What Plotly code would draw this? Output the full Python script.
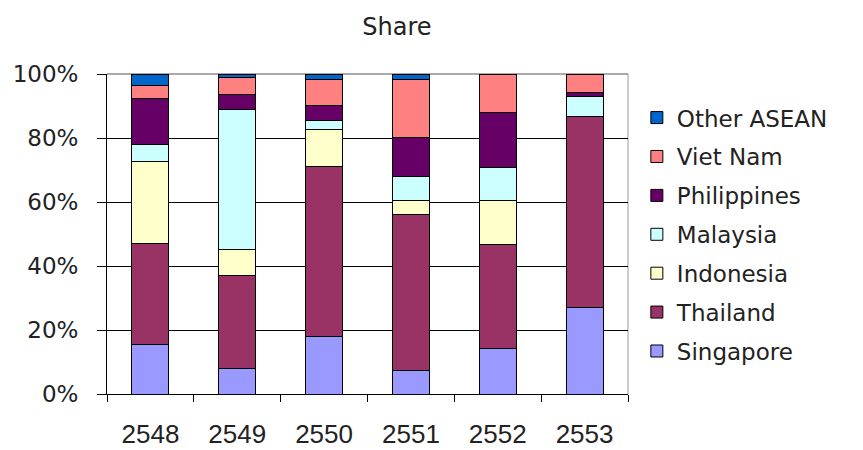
import plotly.graph_objects as go

# Fiscal years (Buddhist Era)
years = ["2548", "2549", "2550", "2551", "2552", "2553"]

# Share of each ASEAN partner, percent of total per year
singapore   = [15.6,  8.0, 17.9,  7.4, 14.3, 27.1]
thailand    = [31.3, 29.0, 53.1, 48.7, 32.4, 59.5]
indonesia   = [25.9,  8.2, 11.6,  4.4, 13.9,  0.0]
malaysia    = [ 5.1, 43.7,  2.8,  7.6, 10.3,  6.3]
philippines = [14.5,  4.8,  4.7, 12.2, 17.0,  1.3]
viet_nam    = [ 4.0,  5.1,  8.1, 17.9, 12.1,  5.8]
other_asean = [ 3.6,  1.2,  1.8,  1.8,  0.0,  0.0]

y_ticks = [0, 20, 40, 60, 80, 100]
y_tick_labels = ["0%", "20%", "40%", "60%", "80%", "100%"]

series = [
    ("Singapore", singapore, "#9999FF"),
    ("Thailand", thailand, "#993366"),
    ("Indonesia", indonesia, "#FFFFCC"),
    ("Malaysia", malaysia, "#CCFFFF"),
    ("Philippines", philippines, "#660066"),
    ("Viet Nam", viet_nam, "#FF8080"),
    ("Other ASEAN", other_asean, "#0066CC"),
]

TXT = "#222222"
fig = go.Figure()
n = len(series)
for i, (name, vals, color) in enumerate(series):
    fig.add_trace(go.Bar(
        x=years, y=vals, name=name, legendgroup=name,
        legendrank=n - i,  # top of the stack listed first
        marker=dict(color=color, line=dict(color="black", width=1)),
    ))

fig.update_layout(
    barmode="stack",
    bargap=0.575,
    width=863, height=450,
    margin=dict(l=107, r=235, t=74, b=56),
    paper_bgcolor="white", plot_bgcolor="white",
    title=dict(text="Share", x=0.46, xref="container", xanchor="center",
               y=0.94, yref="container", yanchor="middle",
               font=dict(family="DejaVu Sans", size=24, color=TXT)),
    legend=dict(
        x=1.017, xanchor="left", y=0.498, yanchor="middle",
        traceorder="grouped", tracegroupgap=6,
        font=dict(family="DejaVu Sans", size=23, color=TXT),
        bgcolor="rgba(0,0,0,0)",
    ),
    xaxis=dict(
        type="category", showgrid=False, automargin=False,
        showline=True, linecolor="black", linewidth=1,
        ticks="outside", ticklen=7, tickcolor="black", tickson="boundaries",
        ticklabelstandoff=17,
        tickfont=dict(family="Liberation Sans, Arial", size=26, color=TXT),
    ),
    yaxis=dict(
        range=[0, 100], tickmode="array", tickvals=y_ticks, ticktext=y_tick_labels,
        automargin=False,
        showgrid=True, gridcolor="black", gridwidth=1,
        zeroline=False,
        showline=True, linecolor="black", linewidth=1,
        ticks="outside", ticklen=9, tickcolor="black",
        ticklabelstandoff=14,
        tickfont=dict(family="DejaVu Sans", size=23, color=TXT),
    ),
    shapes=[
        dict(type="line", xref="paper", yref="paper", x0=1, x1=1, y0=0, y1=1,
             line=dict(color="#9a9a9a", width=1), layer="below"),
        dict(type="line", xref="paper", yref="paper", x0=0, x1=1, y0=1, y1=1,
             line=dict(color="#555555", width=1), layer="below"),
    ],
)

fig.write_html("out.html")
